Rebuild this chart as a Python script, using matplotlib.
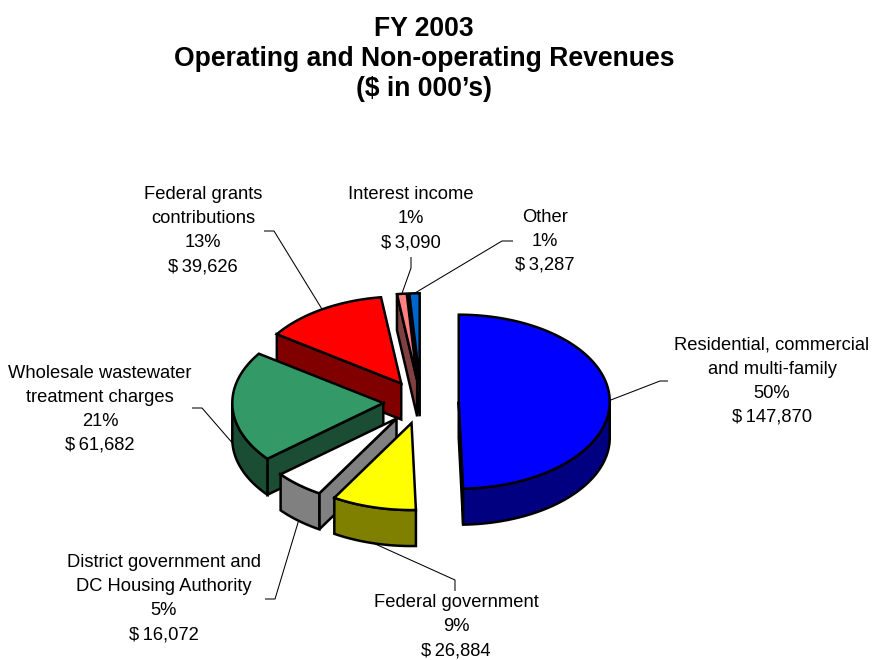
import numpy as np
import matplotlib
matplotlib.use("Agg")
import matplotlib.pyplot as plt
from matplotlib.patches import Polygon

plt.rcParams['font.family'] = ['Liberation Sans', 'DejaVu Sans']

# ---- data ----
categories = ["Residential, commercial\nand multi-family", "Federal government",
              "District government and\nDC Housing Authority",
              "Wholesale wastewater\ntreatment charges", "Federal grants\ncontributions",
              "Interest income", "Other"]
values = [147870, 26884, 16072, 61682, 39626, 3090, 3287]
percent_labels = ["50%", "9%", "5%", "21%", "13%", "1%", "1%"]
amount_labels = ["$\u2009147,870", "$\u200926,884", "$\u200916,072", "$\u200961,682",
                 "$\u200939,626", "$\u20093,090", "$\u20093,287"]
top_colors = ["#0000FF", "#FFFF00", "#FFFFFF", "#339966", "#FF0000", "#FF8080", "#0066CC"]
side_colors = ["#000080", "#808000", "#808080", "#1A4D33", "#800000", "#804040", "#003366"]
title_lines = ["FY 2003", "Operating and Non-operating Revenues", "($ in 000\u2019s)"]

# ---- layout (pixels) ----
W, H = 872, 660
CX, CY, RX, RY, DEPTH, EXPLODE = 421, 402, 151, 87, 36, 0.25
LW = 1.8
label_pos = [(772, 345.5), (456, 602.5), (164, 562.5), (100, 373.5), (203, 194.5), (411, 194.5), (545, 217.5)]
# leader: label-side elbow and end, per slice
leader_mid = [(660, 381), (455, 580), (275, 599), (202, 408), (274, 231), (411, 268), (502, 241)]
leader_end = [(668, 381), (455, 591), (265, 599), (192, 408), (264, 231), (411, 257), (513, 241)]
LINE_H = 24.0

fig = plt.figure(figsize=(W / 100, H / 100), dpi=100)
ax = fig.add_axes([0, 0, 1, 1])
ax.set_xlim(0, W)
ax.set_ylim(H, 0)
ax.axis('off')

vals = np.array(values, dtype=float)
edges = np.concatenate([[0], np.cumsum(vals)]) / vals.sum() * 2 * np.pi


def rim(cx, cy, a):
    return np.column_stack([cx + RX * np.sin(a), cy - RY * np.cos(a)])


z = 2
for i in [6, 5, 4, 3, 2, 1, 0]:
    a0, a1 = edges[i], edges[i + 1]
    mid = (a0 + a1) / 2
    cx = CX + EXPLODE * RX * np.sin(mid)
    cy = CY - EXPLODE * RY * np.cos(mid)
    down = np.array([0, DEPTH])
    apex = np.array([[cx, cy]])
    for a, vis in ((a0, np.sin(a0) < -1e-9), (a1, np.sin(a1) > 1e-9)):
        if vis:
            p = rim(cx, cy, np.array([a]))
            ax.add_patch(Polygon(np.vstack([apex, p, p + down, apex + down]), closed=True,
                                 fc=side_colors[i], ec='black', lw=LW, joinstyle='miter', zorder=z))
            z += 1
    w0, w1 = max(a0, np.pi / 2), min(a1, 3 * np.pi / 2)
    if w1 > w0:
        arc = rim(cx, cy, np.linspace(w0, w1, 80))
        ax.add_patch(Polygon(np.vstack([arc, (arc + down)[::-1]]), closed=True,
                             fc=side_colors[i], ec='black', lw=LW, joinstyle='miter', zorder=z))
        z += 1
    arc = rim(cx, cy, np.linspace(a0, a1, 120))
    ax.add_patch(Polygon(np.vstack([apex, arc]), closed=True,
                         fc=top_colors[i], ec='black', lw=LW, joinstyle='miter', zorder=z))
    z += 1
    # leader line from the rim (or bottom of the wall on the front half)
    start = rim(cx, cy, np.array([mid]))[0]
    if np.pi / 2 < mid < 3 * np.pi / 2 and i != 0:
        start = start + down
    ax.plot([start[0], leader_mid[i][0], leader_end[i][0]],
            [start[1], leader_mid[i][1], leader_end[i][1]],
            color='black', lw=0.75, zorder=1, solid_capstyle='butt')

    lines = categories[i].split("\n") + [percent_labels[i], amount_labels[i]]
    lx, ly = label_pos[i]
    for k, s in enumerate(lines):
        ax.text(lx, ly + k * LINE_H, s, ha='center', va='center', fontsize=13.2, color='black')

for y, s in zip((28.5, 59.5, 89), title_lines):
    ax.text(424, y, s, ha='center', va='center', fontsize=19.1, fontweight='bold', color='black')

fig.savefig("out.png", dpi=100, facecolor='white')
